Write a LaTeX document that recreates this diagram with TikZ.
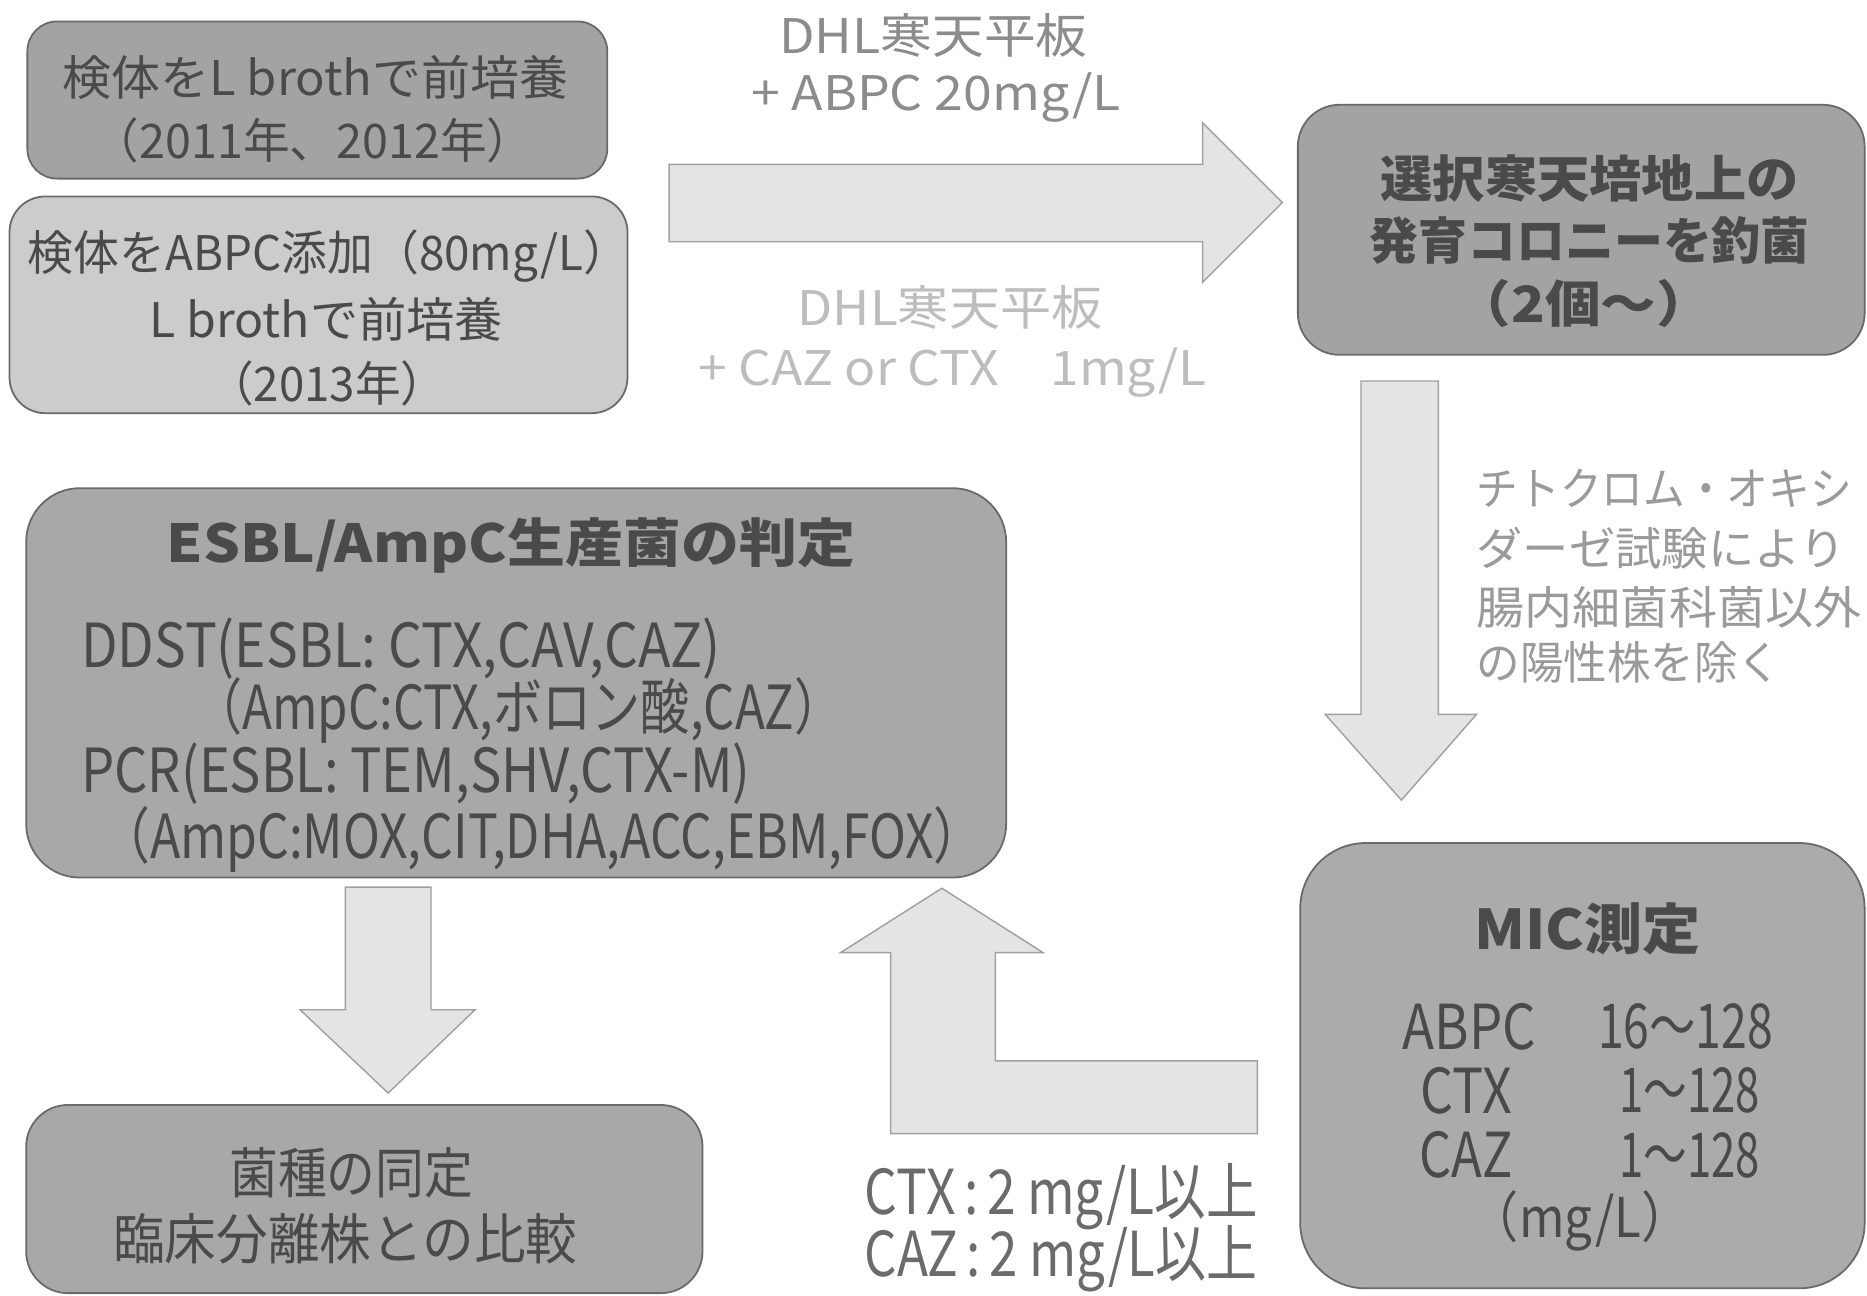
\documentclass[tikz,border=0pt]{standalone}
\usepackage{fontspec}
\setmainfont{Noto Sans CJK JP}
\usepackage{graphicx}
\newcommand\fitx[2]{\resizebox{#1}{\height}{#2}}
\definecolor{tdark}{HTML}{4A4A4A}
\definecolor{tmid}{HTML}{8C8C8C}
\definecolor{tlight}{HTML}{BDBDBD}
\definecolor{tright}{HTML}{9A9A9A}
\definecolor{edge}{HTML}{6A6A6A}
\definecolor{arrfill}{HTML}{E4E4E4}
\definecolor{arredge}{HTML}{A0A0A0}
\tikzset{
  boxshape/.style={draw=edge, line width=1.5pt, inner sep=0pt, minimum width=#1},
  txt/.style={inner sep=0pt, text=tdark, font=\fontsize{40}{48}\selectfont},
  bigarrow/.style={fill=arrfill, draw=arredge, line width=1.2pt, line join=miter},
}
\begin{document}
\begin{tikzpicture}[x=1pt,y=-1pt]
\path[use as bounding box, fill=white] (0,0) rectangle (1568,1088);

% boxes
\node[boxshape=487pt, minimum height=132pt, rounded corners=25pt, fill=black!36] (b1) at (266.5,84) {};
\node[boxshape=519pt, minimum height=182pt, rounded corners=30pt, fill=black!20] (b2) at (267.5,256) {};
\node[boxshape=476pt, minimum height=210pt, rounded corners=35pt, fill=black!36] (b3) at (1328,193) {};
\node[boxshape=823pt, minimum height=327pt, rounded corners=45pt, fill=black!34] (b4) at (433.5,573.5) {};
\node[boxshape=568pt, minimum height=158pt, rounded corners=35pt, fill=black!34] (b5) at (306,1007) {};
\node[boxshape=474pt, minimum height=374pt, rounded corners=55pt, fill=black!33] (b6) at (1329,895) {};

% block arrows
\draw[bigarrow] (562,138) -- (1010,138) -- (1010,103) -- (1077,170) -- (1010,237) -- (1010,203) -- (562,203) -- cycle;
\draw[bigarrow] (1143,320) -- (1208,320) -- (1208,600) -- (1240,600) -- (1177,672) -- (1113,600) -- (1143,600) -- cycle;
\draw[bigarrow] (290,745) -- (362,745) -- (362,848) -- (399,848) -- (326,918) -- (252,848) -- (290,848) -- cycle;
\draw[bigarrow] (748,952) -- (748,800) -- (706,800) -- (791,746) -- (876,800) -- (836,800) -- (836,891) -- (1056,891) -- (1056,952) -- cycle;

% box 1
\node[txt] (t1a) at (265,65) {\fitx{425pt}{検体をL brothで前培養}};
\node[txt] (t1b) at (263,118) {\fitx{370pt}{（2011年、2012年）}};
% box 2
\node[txt] (t2a) at (276,215) {\fitx{505pt}{検体をABPC添加（80mg/L）}};
\node[txt] (t2b) at (274,268) {\fitx{297pt}{L brothで前培養}};
\node[txt] (t2c) at (275,322) {\fitx{200pt}{（2013年）}};
% arrow labels
\node[txt, text=tmid] (a1a) at (784,30) {\fitx{259pt}{DHL寒天平板}};
\node[txt, text=tmid] (a1b) at (786,82) {\fitx{310pt}{+ ABPC 20mg/L}};
\node[txt, text=tlight] (a1c) at (798,258) {\fitx{256pt}{DHL寒天平板}};
\node[txt, text=tlight] (a1d) at (800,313) {\fitx{427pt}{+ CAZ or CTX\quad 1mg/L}};
% box 3
\node[txt, font=\fontsize{42}{50}\selectfont\bfseries] (b3a) at (1335,150) {\fitx{351pt}{選択寒天培地上の}};
\node[txt, font=\fontsize{42}{50}\selectfont\bfseries] (b3b) at (1335,202) {\fitx{370pt}{発育コロニーを釣菌}};
\node[txt, font=\fontsize{42}{50}\selectfont\bfseries] (b3c) at (1330,255) {\fitx{215pt}{（2個～）}};
% right text
\node[txt, text=tright, anchor=west, font=\fontsize{38}{46}\selectfont] (r1) at (1240,410) {\fitx{315pt}{チトクロム・オキシ}};
\node[txt, text=tright, anchor=west, font=\fontsize{38}{46}\selectfont] (r2) at (1240,460) {\fitx{310pt}{ダーゼ試験により}};
\node[txt, text=tright, anchor=west, font=\fontsize{38}{46}\selectfont] (r3) at (1240,510) {\fitx{323pt}{腸内細菌科菌以外}};
\node[txt, text=tright, anchor=west, font=\fontsize{38}{46}\selectfont] (r4) at (1240,556) {\fitx{256pt}{の陽性株を除く}};
% box 4
\node[txt, font=\fontsize{44}{52}\selectfont\bfseries] (b4t) at (429,458) {\fitx{578pt}{ESBL/AmpC生産菌の判定}};
\node[txt, anchor=west, font=\fontsize{51}{58}\selectfont] (b4a) at (68,545) {\fitx{537pt}{DDST(ESBL: CTX,CAV,CAZ)}};
\node[txt, anchor=west, font=\fontsize{51}{58}\selectfont] (b4b) at (162,597) {\fitx{546pt}{（AmpC:CTX,ボロン酸,CAZ）}};
\node[txt, anchor=west, font=\fontsize{51}{58}\selectfont] (b4c) at (68,650) {\fitx{562pt}{PCR(ESBL: TEM,SHV,CTX-M)}};
\node[txt, anchor=west, font=\fontsize{51}{58}\selectfont] (b4d) at (84,705) {\fitx{742pt}{（AmpC:MOX,CIT,DHA,ACC,EBM,FOX）}};
% box 5
\node[txt, font=\fontsize{46}{52}\selectfont] (b5a) at (295,985) {\fitx{205pt}{菌種の同定}};
\node[txt, font=\fontsize{46}{52}\selectfont] (b5b) at (290,1040) {\fitx{390pt}{臨床分離株との比較}};
% box 6
\node[txt, font=\fontsize{46}{54}\selectfont\bfseries] (b6t) at (1333,780) {\fitx{190pt}{MIC測定}};
\node[txt, anchor=west, font=\fontsize{52}{58}\selectfont] (m1a) at (1178,862) {\fitx{112pt}{ABPC}};
\node[txt, anchor=west, font=\fontsize{52}{58}\selectfont] (m1b) at (1342,862) {\fitx{147pt}{16～128}};
\node[txt, anchor=west, font=\fontsize{52}{58}\selectfont] (m2a) at (1193,916) {\fitx{77pt}{CTX}};
\node[txt, anchor=west, font=\fontsize{52}{58}\selectfont] (m2b) at (1360,916) {\fitx{118pt}{1～128}};
\node[txt, anchor=west, font=\fontsize{52}{58}\selectfont] (m3a) at (1192,970) {\fitx{78pt}{CAZ}};
\node[txt, anchor=west, font=\fontsize{52}{58}\selectfont] (m3b) at (1360,970) {\fitx{118pt}{1～128}};
\node[txt, font=\fontsize{46}{52}\selectfont] (m4) at (1327,1025) {\fitx{185pt}{（mg/L）}};
% threshold text
\node[txt, anchor=west, font=\fontsize{52}{58}\selectfont, text=black!58] (c1) at (726,1005) {\fitx{330pt}{CTX\,:\,2 mg/L以上}};
\node[txt, anchor=west, font=\fontsize{52}{58}\selectfont, text=black!58] (c2) at (726,1057) {\fitx{330pt}{CAZ\,:\,2 mg/L以上}};
\end{tikzpicture}
\end{document}
